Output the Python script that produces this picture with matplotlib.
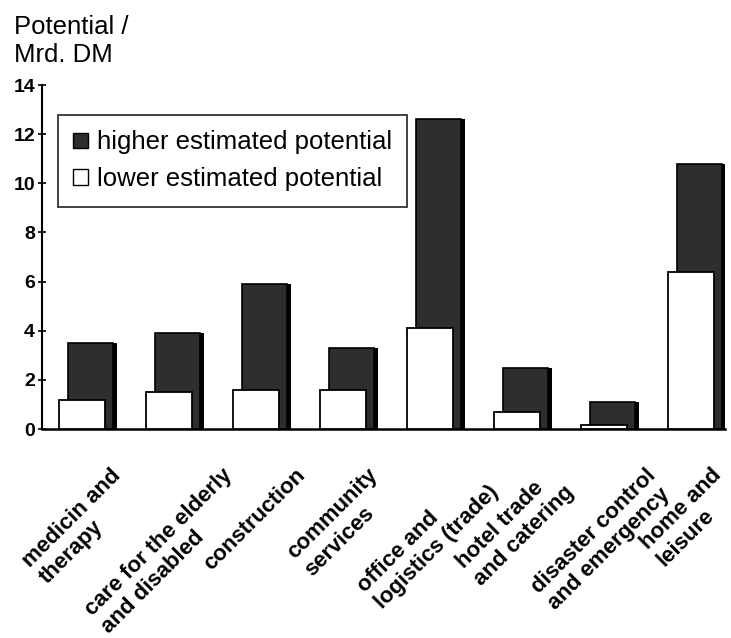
import matplotlib
matplotlib.use("Agg")
import matplotlib.pyplot as plt
from matplotlib.patches import Patch
import numpy as np

categories = ["medicin and\ntherapy", "care for the elderly\nand disabled", "construction",
              "community\nservices", "office and\nlogistics (trade)", "hotel trade\nand catering",
              "disaster control\nand emergency", "home and\nleisure"]
higher = [3.5, 3.9, 5.9, 3.3, 12.6, 2.5, 1.1, 10.8]
lower = [1.2, 1.5, 1.6, 1.6, 4.1, 0.7, 0.15, 6.4]
yticks = [0, 2, 4, 6, 8, 10, 12, 14]

plt.rcParams['font.family'] = ['Liberation Sans', 'DejaVu Sans']

fig = plt.figure(figsize=(7.31, 6.38), dpi=100)
ax = fig.add_axes([42/731, 1-429/638, (725-42)/731, (429-85)/638])

x = np.arange(len(categories))
w = 0.52
off = 0.1
dark = '#2e2e2e'
# shadow of dark bars
ax.bar(x + off + 0.04, higher, width=w, color='black', zorder=1)
ax.bar(x + off, higher, width=w, color=dark, edgecolor='black', linewidth=1.2, zorder=2)
ax.bar(x, lower, width=w, color='white', edgecolor='black', linewidth=1.3, zorder=3)

ax.set_xlim(-0.46, 7.39)
ax.set_ylim(0, 14)
ax.set_yticks(yticks)
ax.set_yticklabels([str(t) for t in yticks], fontsize=14, fontweight='bold')
ax.tick_params(axis='y', direction='inout', length=6, width=1.2, pad=2)
ax.set_xticks([])
for s in ['top', 'right']:
    ax.spines[s].set_visible(False)
ax.spines['left'].set_linewidth(1.5)
ax.spines['bottom'].set_linewidth(1.8)

for xi, lab in zip(x, categories):
    ax.text(xi - 0.02, -1.45, lab, rotation=45, ha='center', va='top', fontsize=16,
            fontweight='bold', rotation_mode='default', linespacing=1.2,
            multialignment='left')

fig.text(14/731, 1-15/638, "Potential /\nMrd. DM", ha='left', va='top', fontsize=18.5,
         linespacing=1.22)

handles = [Patch(facecolor=dark, edgecolor='black', label='higher estimated potential'),
           Patch(facecolor='white', edgecolor='black', label='lower estimated potential')]
leg = fig.legend(handles=handles, loc='upper left', bbox_to_anchor=(58/731, 1-115/638),
                 fontsize=18.5, frameon=True, fancybox=False, edgecolor='black',
                 handlelength=0.55, handleheight=0.55, handletextpad=0.35,
                 borderpad=0.6, labelspacing=0.5, borderaxespad=0)
leg.get_frame().set_linewidth(1.3)

fig.savefig("out.png", dpi=100)
